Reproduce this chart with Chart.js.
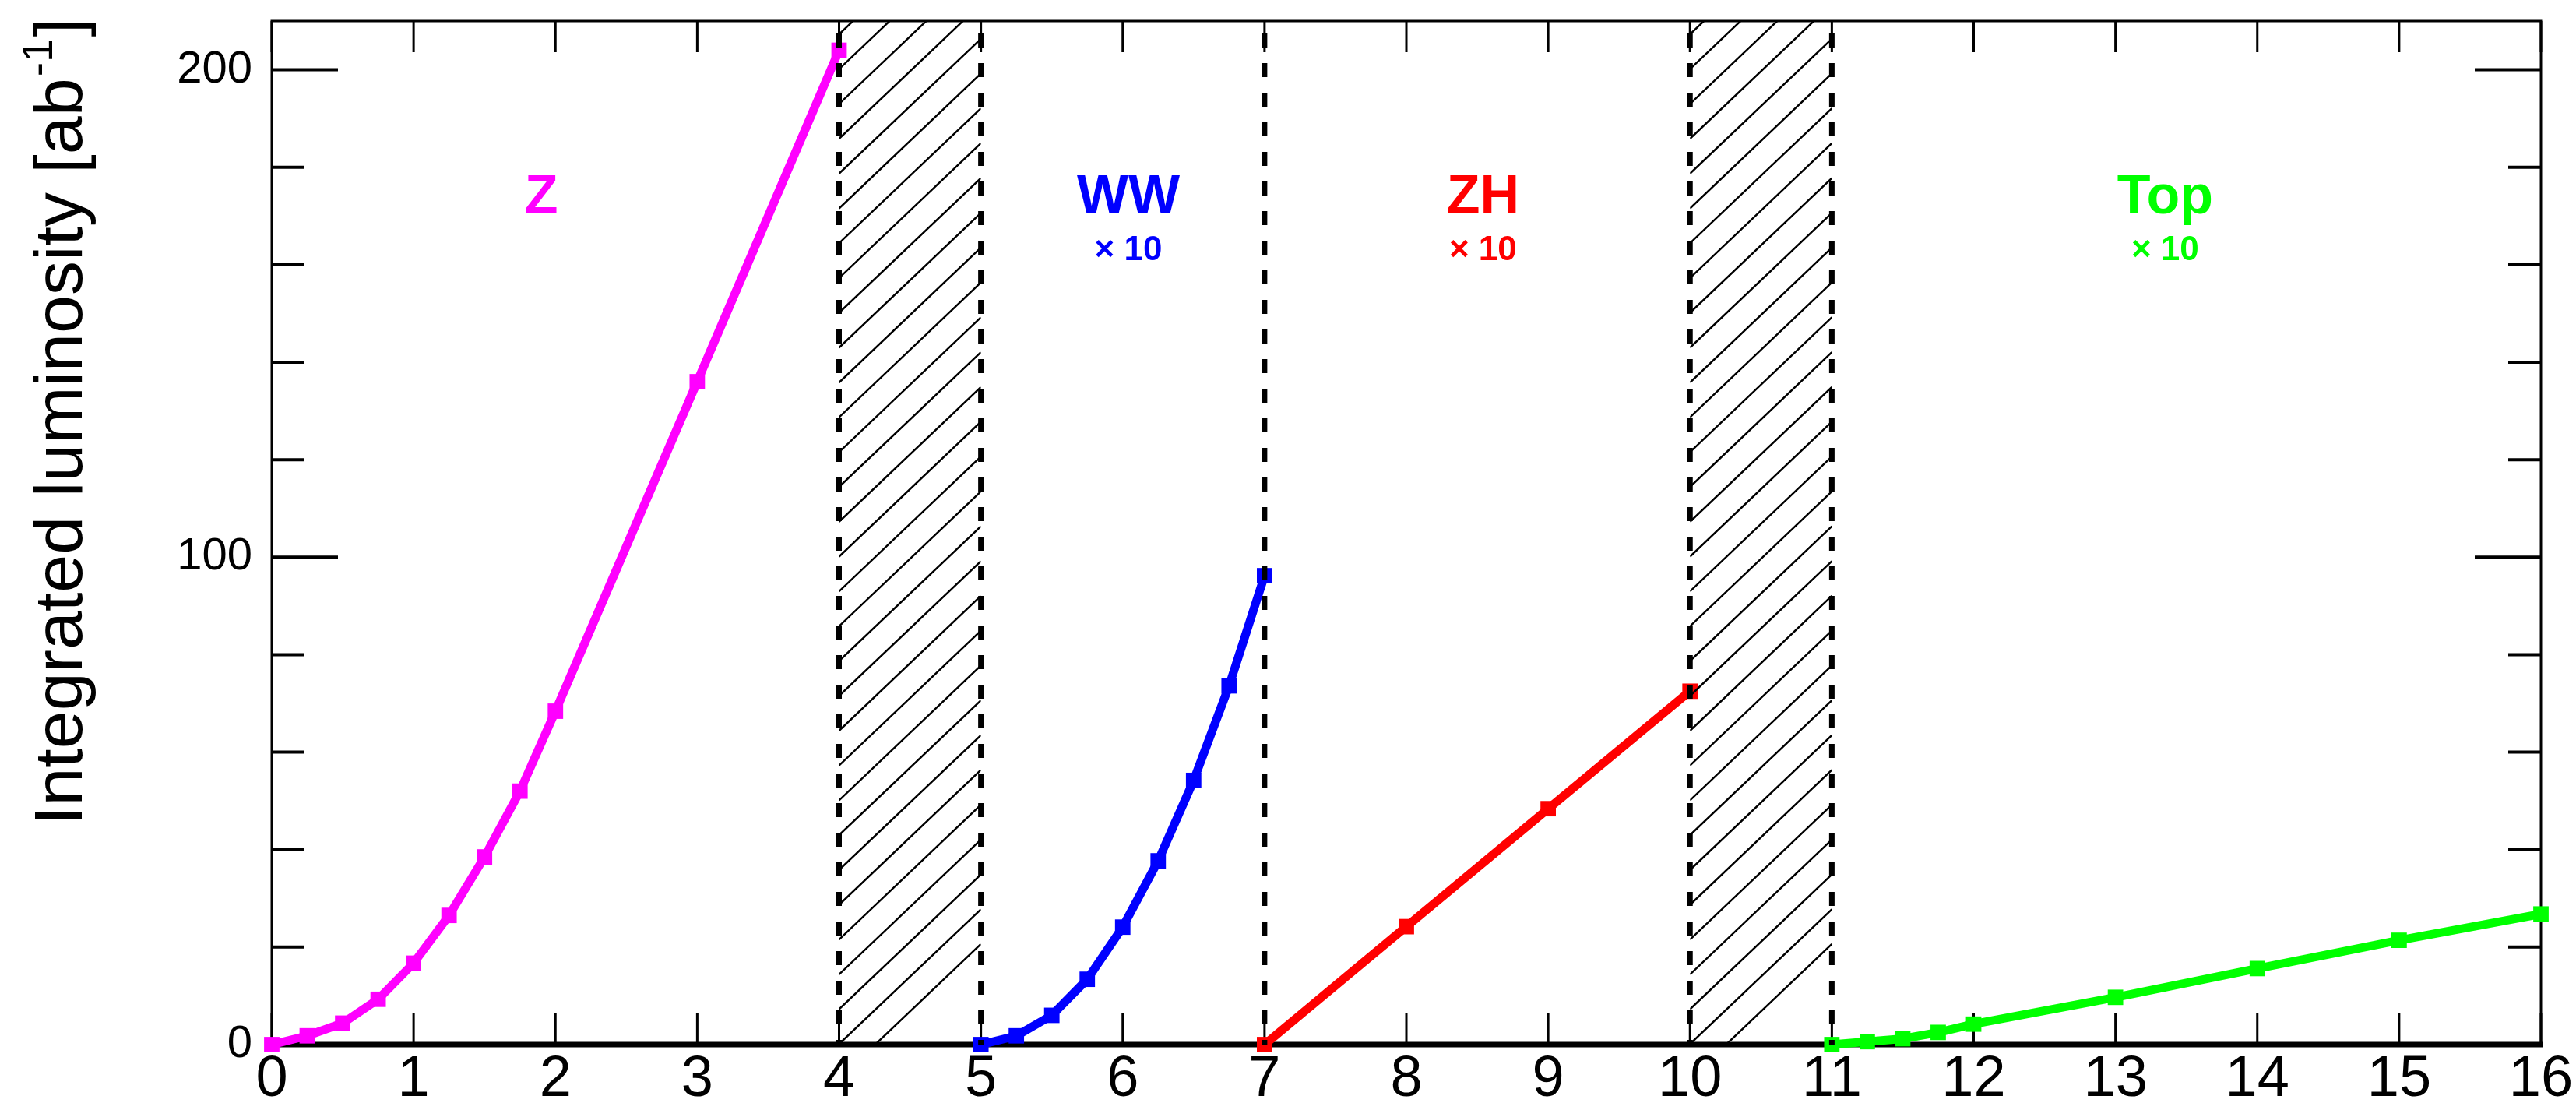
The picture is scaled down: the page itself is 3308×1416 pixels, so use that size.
<!DOCTYPE html>
<html>
<head>
<meta charset="utf-8">
<title>Integrated luminosity</title>
<script src="https://cdn.jsdelivr.net/npm/chart.js@4.4.1/dist/chart.umd.min.js"></script>
<style>
  html, body { margin: 0; padding: 0; background: #fff; }
  #lumiChart { display: block; }
</style>
</head>
<body>
<canvas id="lumiChart" width="3308" height="1416"></canvas>
<script>
// Integrated luminosity per running stage, ab^-1 (WW, ZH and Top drawn x10)

const zYears = [0, 0.25, 0.5, 0.75, 1, 1.25, 1.5, 1.75, 2, 3, 4];
const zLumi = [0, 1.8, 4.4, 9.3, 16.7, 26.5, 38.5, 52, 68.4, 136, 204];

const wwYears = [5, 5.25, 5.5, 5.75, 6, 6.25, 6.5, 6.75, 7];
const wwLumi = [0, 1.8, 6, 13.4, 24.1, 37.7, 54.2, 73.6, 96.2];

const zhYears = [7, 8, 9, 10];
const zhLumi = [0, 24.2, 48.4, 72.5];

const topYears = [11, 11.25, 11.5, 11.75, 12, 13, 14, 15, 16];
const topLumi = [0, 0.6, 1.2, 2.5, 4.2, 9.7, 15.6, 21.4, 26.8];

const xTicks = [0, 1, 2, 3, 4, 5, 6, 7, 8, 9, 10, 11, 12, 13, 14, 15, 16];
const yLabelTicks = [0, 100, 200];
const yMinorTicks = [20, 40, 60, 80, 120, 140, 160, 180];

// shutdown periods (hatched) and stage boundaries (dashed)
const shutdowns = [[4, 5], [10, 11]];
const stageEdges = [4, 5, 7, 10, 11];

const stageNames = ['Z', 'WW', 'ZH', 'Top'];
const stageScale = ['', '× 10', '× 10', '× 10'];
const stageColors = ['#ff00ff', '#0000ff', '#ff0000', '#00ff00'];
const stageLabelAt = [1.9, 6.04, 8.54, 13.35];

const FONT = '"Liberation Sans", Arial, Helvetica, sans-serif';
Chart.defaults.font.family = FONT;

function series(xs, ys, color) {
    return {
        data: xs.map((v, i) => ({ x: v, y: ys[i] })),
        borderColor: color,
        backgroundColor: color,
        borderWidth: 11,
        pointStyle: 'rect',
        pointRadius: 14,
        pointBorderWidth: 0,
        tension: 0,
        clip: false
    };
}

const framePlugin = {
    id: 'frame',
    beforeDatasetsDraw(chart) {
        const { ctx, chartArea: a, scales: { x, y } } = chart;
        ctx.save();
        ctx.strokeStyle = '#000';

        // inward ticks, bottom and top
        ctx.lineWidth = 3;
        ctx.beginPath();
        xTicks.forEach(v => {
            const px = x.getPixelForValue(v);
            ctx.moveTo(px, a.bottom);
            ctx.lineTo(px, a.bottom - 40);
            ctx.moveTo(px, a.top);
            ctx.lineTo(px, a.top + 40);
        });
        ctx.stroke();

        // inward ticks, left and right
        ctx.lineWidth = 4;
        ctx.beginPath();
        yMinorTicks.concat(yLabelTicks).forEach(v => {
            const py = y.getPixelForValue(v);
            const len = yLabelTicks.includes(v) ? 85 : 42;
            ctx.moveTo(a.left, py);
            ctx.lineTo(a.left + len, py);
            ctx.moveTo(a.right, py);
            ctx.lineTo(a.right - len, py);
        });
        ctx.stroke();

        ctx.lineWidth = 3;
        ctx.strokeRect(a.left, a.top, a.right - a.left, a.bottom - a.top);
        ctx.lineWidth = 7;
        ctx.beginPath();
        ctx.moveTo(a.left - 2, a.bottom);
        ctx.lineTo(a.right + 2, a.bottom);
        ctx.stroke();
        ctx.restore();
    },
    afterDatasetsDraw(chart) {
        const { ctx, chartArea: a, scales: { x, y } } = chart;
        ctx.save();

        // hatching over the shutdowns
        const slope = 0.95, gap = 44.7;
        shutdowns.forEach(([from, to]) => {
            const x0 = x.getPixelForValue(from);
            const x1 = x.getPixelForValue(to);
            const w = x1 - x0;
            ctx.save();
            ctx.beginPath();
            ctx.rect(x0, a.top, w, a.bottom - a.top);
            ctx.clip();
            ctx.strokeStyle = '#000';
            ctx.lineWidth = 2.5;
            ctx.beginPath();
            for (let c = a.top + 17 - gap * 6; c < a.bottom + gap; c += gap) {
                ctx.moveTo(x0, c);
                ctx.lineTo(x1, c - slope * w);
            }
            ctx.stroke();
            ctx.restore();
        });

        // dashed stage boundaries
        ctx.strokeStyle = '#000';
        ctx.lineWidth = 7;
        ctx.setLineDash([18, 20]);
        ctx.lineDashOffset = 22;
        ctx.beginPath();
        stageEdges.forEach(v => {
            const px = x.getPixelForValue(v);
            ctx.moveTo(px, a.top);
            ctx.lineTo(px, a.bottom);
        });
        ctx.stroke();
        ctx.setLineDash([]);

        // stage names
        ctx.textAlign = 'center';
        ctx.textBaseline = 'middle';
        stageNames.forEach((name, i) => {
            const px = x.getPixelForValue(stageLabelAt[i]);
            ctx.fillStyle = stageColors[i];
            ctx.font = 'bold 70px ' + FONT;
            ctx.fillText(name, px, y.getPixelForValue(173.6));
            if (stageScale[i]) {
                ctx.font = 'bold 44px ' + FONT;
                ctx.fillText(stageScale[i], px, y.getPixelForValue(162.9));
            }
        });

        // y axis title with superscript
        const main = 'Integrated luminosity [ab';
        const sup = '-1';
        const end = ']';
        ctx.fillStyle = '#000';
        ctx.textAlign = 'left';
        ctx.textBaseline = 'alphabetic';
        ctx.font = '88px ' + FONT;
        const w1 = ctx.measureText(main).width;
        const w3 = ctx.measureText(end).width;
        ctx.font = '55px ' + FONT;
        const w2 = ctx.measureText(sup).width;
        const start = -(w1 + w2 + w3) / 2;
        ctx.translate(105, 543);
        ctx.rotate(-Math.PI / 2);
        ctx.font = '88px ' + FONT;
        ctx.fillText(main, start, 0);
        ctx.font = '55px ' + FONT;
        ctx.fillText(sup, start + w1 + 2, -38);
        ctx.font = '88px ' + FONT;
        ctx.fillText(end, start + w1 + w2 + 4, 0);
        ctx.restore();
    }
};

new Chart(document.getElementById('lumiChart'), {
    type: 'line',
    data: {
        datasets: [
            series(zYears, zLumi, stageColors[0]),
            series(wwYears, wwLumi, stageColors[1]),
            series(zhYears, zhLumi, stageColors[2]),
            series(topYears, topLumi, stageColors[3])
        ]
    },
    options: {
        responsive: false,
        devicePixelRatio: 1,
        animation: false,
        layout: { padding: { top: 27, right: 45, left: 0, bottom: 0 } },
        plugins: {
            legend: { display: false },
            tooltip: { enabled: false }
        },
        scales: {
            x: {
                type: 'linear',
                min: 0,
                max: 16,
                afterBuildTicks: s => { s.ticks = xTicks.map(v => ({ value: v })); },
                afterFit: s => {
                    s.height = 75;
                    s.paddingLeft = 0;
                    s.paddingRight = 0;
                },
                ticks: { font: { size: 74 }, color: '#000', padding: 1, maxRotation: 0, autoSkip: false },
                grid: { display: false, drawTicks: false },
                border: { display: false }
            },
            y: {
                type: 'linear',
                min: 0,
                max: 210,
                afterBuildTicks: s => { s.ticks = yLabelTicks.map(v => ({ value: v })); },
                afterFit: s => {
                    s.width = 349;
                    s.paddingTop = 0;
                    s.paddingBottom = 0;
                },
                ticks: { font: { size: 58 }, color: '#000', padding: 25 },
                grid: { display: false, drawTicks: false },
                border: { display: false }
            }
        }
    },
    plugins: [framePlugin]
});
</script>
</body>
</html>
